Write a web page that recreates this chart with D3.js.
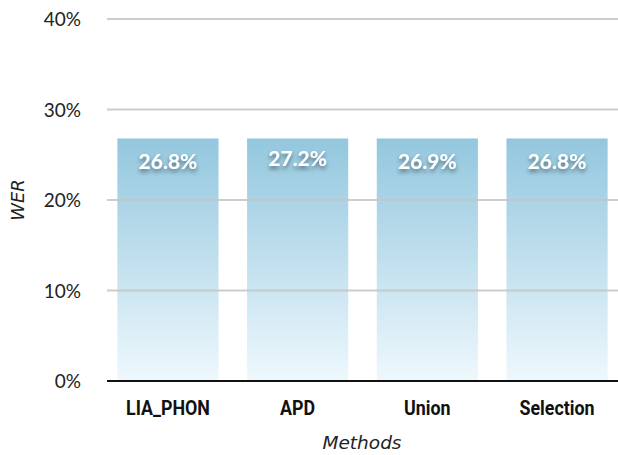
<!DOCTYPE html>
<html><head><meta charset="utf-8">
<script src="https://cdn.jsdelivr.net/npm/d3@7"></script>
<style>
html,body{margin:0;padding:0;background:#fff;}
svg{display:block;}
</style></head>
<body>
<svg id="chart" width="618" height="455"></svg>
<script>
const categories = ["LIA_PHON", "APD", "Union", "Selection"];
const barValues = [26.8, 26.8, 26.8, 26.8];   // bar heights as drawn
const labelValues = [26.8, 27.2, 26.9, 26.8]; // printed values
const yTicks = [0, 10, 20, 30, 40];

const svg = d3.select("#chart");
const margin = {left: 107, right: 0, top: 19, bottom: 74};
const W = 618, H = 455;

const x = d3.scaleBand().domain(categories).range([margin.left, W - margin.right])
  .paddingInner(0.22).paddingOuter(0.08);
const y = d3.scaleLinear().domain([0, 40]).range([H - margin.bottom, margin.top]);

const defs = svg.append("defs");
const grad = defs.append("linearGradient").attr("id", "barGrad")
  .attr("x1", 0).attr("y1", 0).attr("x2", 0).attr("y2", 1);
grad.append("stop").attr("offset", "0%").attr("stop-color", "#93c7de");
grad.append("stop").attr("offset", "100%").attr("stop-color", "#eef8fd");
const f = defs.append("filter").attr("id", "shadow").attr("x", "-20%").attr("y", "-30%").attr("width", "140%").attr("height", "180%");
f.append("feDropShadow").attr("dx", 0).attr("dy", 3).attr("stdDeviation", 2.2)
  .attr("flood-color", "#000").attr("flood-opacity", 0.45);

// bars
svg.append("g").selectAll("rect").data(categories).join("rect")
  .attr("x", d => x(d))
  .attr("width", x.bandwidth())
  .attr("y", (d, i) => y(barValues[i]))
  .attr("height", (d, i) => y(0) - y(barValues[i]))
  .attr("fill", "url(#barGrad)");

// grid lines (over bars, light)
svg.append("g").selectAll("line").data(yTicks.filter(t => t > 0)).join("line")
  .attr("x1", margin.left).attr("x2", W)
  .attr("y1", d => y(d)).attr("y2", d => y(d))
  .attr("stroke", "#c4c4c4").attr("stroke-width", 2).attr("stroke-opacity", 0.85);

// y axis tick labels
const yAxis = d3.axisLeft(y).tickValues(yTicks).tickSize(0).tickPadding(0)
  .tickFormat(d => d + "%");
const ya = svg.append("g").attr("transform", `translate(${margin.left - 26},0)`).call(yAxis);
ya.select(".domain").remove();
ya.selectAll("text").attr("font-family", "Lato, 'Noto Sans', sans-serif")
  .attr("font-size", 19).attr("fill", "#222").attr("dy", "0.35em");

// x axis line
svg.append("line").attr("x1", margin.left).attr("x2", W)
  .attr("y1", y(0)).attr("y2", y(0)).attr("stroke", "#111").attr("stroke-width", 2.2);

// x axis category labels (condensed bold)
const xAxis = d3.axisBottom(x).tickSize(0).tickPadding(0);
const xa = svg.append("g").attr("transform", `translate(0,${y(0)})`).call(xAxis);
xa.select(".domain").remove();
xa.selectAll("text")
  .attr("font-family", "Roboto, 'Liberation Sans', sans-serif")
  .attr("font-weight", "bold").attr("font-size", 21).attr("fill", "#111")
  .attr("y", 0).attr("dy", 34)
  .attr("transform", "scale(0.85,1)");

// value labels
svg.append("g").selectAll("text").data(categories).join("text")
  .attr("x", d => x(d) + x.bandwidth() / 2)
  .attr("y", (d, i) => y(labelValues[i]) + 31)
  .attr("text-anchor", "middle")
  .attr("font-family", "Lato, 'Noto Sans', sans-serif")
  .attr("font-weight", "bold").attr("font-size", 21).attr("fill", "#fff")
  .attr("filter", "url(#shadow)")
  .text((d, i) => labelValues[i].toFixed(1) + "%");

// axis titles
svg.append("text").attr("x", 362).attr("y", 449).attr("text-anchor", "middle")
  .attr("font-family", "'DejaVu Sans', sans-serif").attr("font-style", "italic")
  .attr("font-weight", 300)
  .attr("font-size", 18.5).attr("fill", "#222").text("Methods");
svg.append("text").attr("transform", "translate(24,200) rotate(-90)").attr("text-anchor", "middle")
  .attr("font-family", "'DejaVu Sans', sans-serif").attr("font-style", "italic")
  .attr("font-size", 18).attr("fill", "#222").text("WER");
</script>
</body></html>
